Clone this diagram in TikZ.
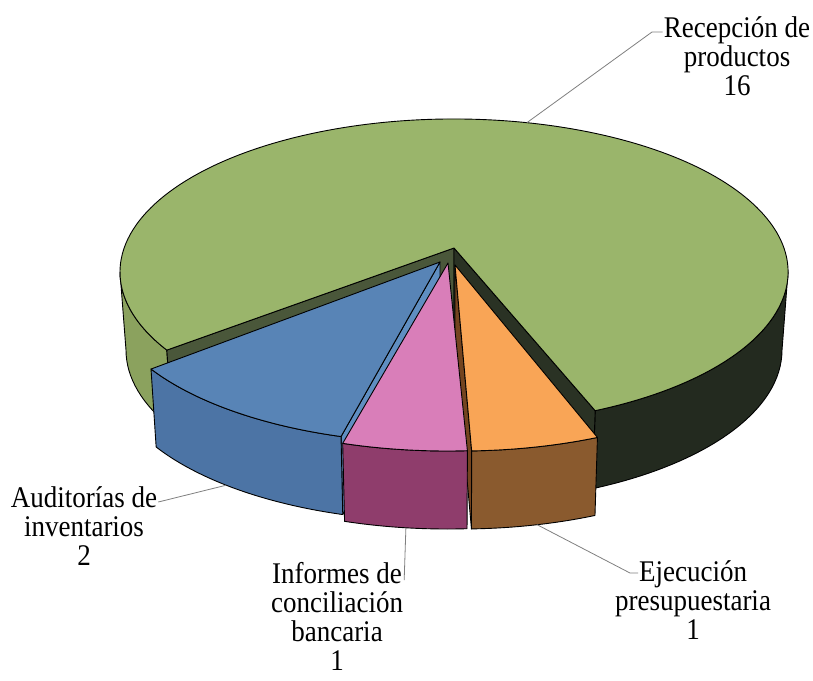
\documentclass[tikz,border=0pt]{standalone}
\usepackage{fontspec}
\setmainfont{Liberation Serif}[FakeStretch=0.9]
\usetikzlibrary{calc}
\definecolor{gtop}{HTML}{9AB56B}
\definecolor{gside}{HTML}{232A1F}
\definecolor{gsideL}{HTML}{8BA25E}
\definecolor{gcutL}{HTML}{4A573A}
\definecolor{gcutR}{HTML}{2A3224}
\definecolor{btop}{HTML}{5884B6}
\definecolor{bside}{HTML}{4C74A5}
\definecolor{bcut}{HTML}{5F8EC1}
\definecolor{ptop}{HTML}{D97EB9}
\definecolor{pside}{HTML}{8F3D6C}
\definecolor{otop}{HTML}{F9A556}
\definecolor{oside}{HTML}{8A5A2E}
\definecolor{ocut}{HTML}{74441F}
\begin{document}
\begin{tikzpicture}[x=1pt,y=-1pt,line join=round,
  face/.style={draw=black,line width=0.9pt},
  leader/.style={draw=black!50,line width=0.8pt},
  lbl/.style={font=\fontsize{30}{29}\selectfont,align=center,inner sep=1pt}]
\fill[white] (0,0) rectangle (813,680);
\useasboundingbox (0,0) rectangle (813,680);
% ---------- green slice (Recepcion de productos) ----------
\coordinate (gT) at (454,272); \coordinate (gB) at (454,350);
\coordinate (gA) at (454,248); \coordinate (gA2) at (454,326);
\coordinate (gR) at ($(gT)+(65:334 and 153)$);
\coordinate (gRb) at ($(gB)+(65:328 and 153)$);
\coordinate (gL) at ($(gT)+(149.3:334 and 153)$);
\coordinate (gLb) at ($(gB)+(149.3:328 and 153)$);
\path[face,fill=gside] ($(gT)+(0:334 and 153)$) arc[start angle=0,end angle=65,x radius=334,y radius=153]
  -- (gRb) arc[start angle=65,end angle=0,x radius=328,y radius=153] -- cycle;
\path[face,fill=gsideL] (gL) arc[start angle=149.3,end angle=180,x radius=334,y radius=153]
  -- ($(gB)+(180:328 and 153)$) arc[start angle=180,end angle=149.3,x radius=328,y radius=153] -- cycle;
\path[face,fill=gcutL] (gA) -- (gL) -- (gLb) -- (gA2) -- cycle;
\path[face,fill=gcutR] (gA) -- (gR) -- (gRb) -- (gA2) -- cycle;
\path[face,fill=gtop] (gA) -- (gR) arc[start angle=65,end angle=-210.7,x radius=334,y radius=153] -- cycle;
% ---------- blue slice (Auditorias) ----------
\coordinate (bT) at (437,290); \coordinate (bB) at (437,368);
\coordinate (bA) at (440,262); \coordinate (bA2) at (440,340);
\coordinate (bL) at ($(bT)+(148.9:334 and 153)$);
\coordinate (bR) at ($(bT)+(106.7:334 and 153)$);
\coordinate (bRb) at ($(bB)+(106.7:328 and 153)$);
\path[face,fill=bcut] (bA) -- (bR) -- (bRb) -- (bA2) -- cycle;
\path[face,fill=bside] (bL) arc[start angle=148.9,end angle=106.7,x radius=334,y radius=153]
  -- (bRb) arc[start angle=106.7,end angle=148.9,x radius=328,y radius=153] -- cycle;
\path[face,fill=btop] (bA) -- (bL) arc[start angle=148.9,end angle=106.7,x radius=334,y radius=153] -- cycle;
% ---------- orange slice (Ejecucion) ----------
\coordinate (oT) at (460,298); \coordinate (oB) at (460,376);
\coordinate (oA) at (455,265); \coordinate (oA2) at (455,343);
\coordinate (oL) at ($(oT)+(88:334 and 153)$);
\coordinate (oLb) at ($(oB)+(88:328 and 153)$);
\coordinate (oRb) at ($(oB)+(65.7:328 and 153)$);
\path[face,fill=ocut] (oA) -- (oL) -- (oLb) -- (oA2) -- cycle;
\path[face,fill=oside] (oL) arc[start angle=88,end angle=65.7,x radius=334,y radius=153]
  -- (oRb) arc[start angle=65.7,end angle=88,x radius=328,y radius=153] -- cycle;
\path[face,fill=otop] (oA) -- (oL) arc[start angle=88,end angle=65.7,x radius=334,y radius=153] -- cycle;
% ---------- pink slice (Informes) ----------
\coordinate (pT) at (447,298); \coordinate (pB) at (447,376);
\coordinate (pA) at (448,263);
\coordinate (pL) at ($(pT)+(108.2:334 and 153)$);
\coordinate (pRb) at ($(pB)+(86.5:328 and 153)$);
\path[face,fill=pside] (pL) arc[start angle=108.2,end angle=86.5,x radius=334,y radius=153]
  -- (pRb) arc[start angle=86.5,end angle=108.2,x radius=328,y radius=153] -- cycle;
\path[face,fill=ptop] (pA) -- (pL) arc[start angle=108.2,end angle=86.5,x radius=334,y radius=153] -- cycle;
% ---------- labels ----------
\node[lbl] (rec) at (737,56) {Recepción de\\productos\\16};
\node[lbl] (aud) at (84,526) {Auditorías de\\inventarios\\2};
\node[lbl] (inf) at (337,616) {Informes de\\conciliación\\bancaria\\1};
\node[lbl] (eje) at (693,600) {Ejecución\\presupuestaria\\1};
% ---------- leaders ----------
\coordinate (recP) at ($(gT)+(-77.4:334 and 153)$);
\coordinate (recK) at (652,32);
\draw[leader] (recP) -- (recK) -- (rec.west |- recK);
\coordinate (audP) at ($(bB)+(130:328 and 153)$);
\coordinate (audK) at (159,502);
\draw[leader] (audP) -- (aud.east |- audK);
\coordinate (infP) at ($(pB)+(97.2:328 and 153)$);
\coordinate (infK) at (402,580);
\draw[leader] (infP) -- (inf.east |- infK);
\coordinate (ejeP) at ($(oB)+(76.4:328 and 153)$);
\coordinate (ejeK) at (630,573);
\coordinate (ejeK2) at (638,573);
\draw[leader] (ejeP) -- (ejeK) -- (ejeK2);
\end{tikzpicture}
\end{document}
